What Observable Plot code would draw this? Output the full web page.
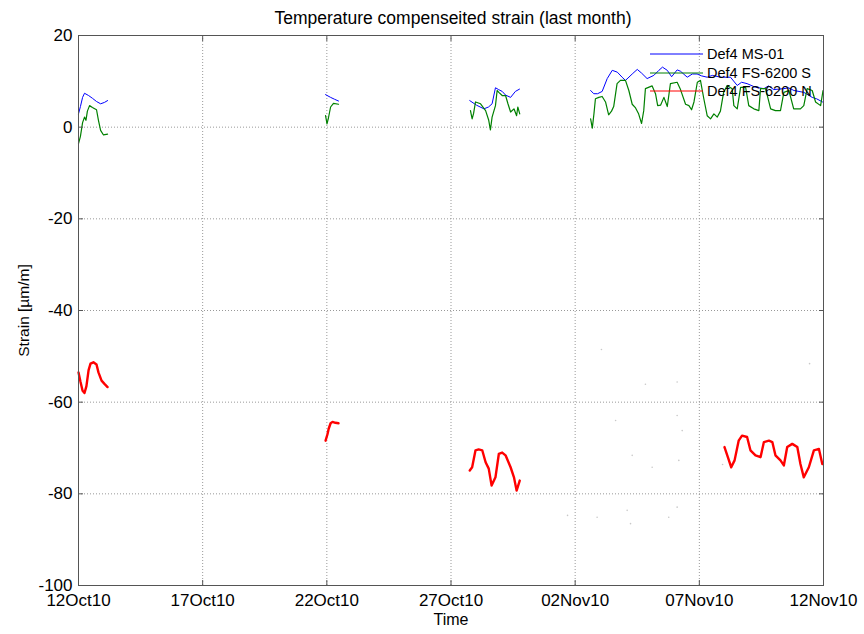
<!DOCTYPE html>
<html><head><meta charset="utf-8">
<script src="https://cdn.jsdelivr.net/npm/d3@7"></script>
<script src="https://cdn.jsdelivr.net/npm/@observablehq/plot@0.6"></script>
<style>
body{margin:0;background:#fff;}
#wrap{position:relative;width:864px;height:634px;font-family:"Liberation Sans",Arial,sans-serif;}
#legend{position:absolute;left:650px;top:45px;font-size:14.5px;color:#000;}
#legend .row{display:flex;align-items:center;height:18.5px;}
#legend svg{margin-right:4px;}
</style></head>
<body><div id="wrap"><div id="legend"></div></div>
<script>
// ---- data (x = days since left axis limit, y = strain in µm/m) ----
const title = "Temperature compenseited strain (last month)";
const xTitle = "Time";
const yTitle = "Strain [µm/m]";
const xLabels = ["12Oct10","17Oct10","22Oct10","27Oct10","02Nov10","07Nov10","12Nov10"];
const spanDays = 31;
const yTicks = [-100,-80,-60,-40,-20,0,20];
const seriesNames = ["Def4 MS-01","Def4 FS-6200 S","Def4 FS-6200 N"];
const seriesColors = ["#0000ff","#008000","#ff0000"];

const ms01 = [
  [[0,2.9],[0.08,4.5],[0.17,6.5],[0.25,7.4],[0.42,6.9],[0.58,6.3],[0.75,5.6],[0.92,5.1],[1.08,5.4],[1.21,5.8]],
  [[10.28,7.1],[10.49,6.5],[10.65,6.1],[10.82,5.7]],
  [[16.28,5.8],[16.56,4.8],[16.87,4.0],[17.06,4.4],[17.21,5.1],[17.35,8.6],[17.48,8.2],[17.63,7.8],[17.77,7.0],[17.98,6.5],[18.18,7.8],[18.35,8.3]],
  [[21.31,8.0],[21.44,7.3],[21.60,7.3],[21.79,7.8],[22.00,10.6],[22.21,12.4],[22.42,12.0],[22.62,10.9],[22.76,10.2],[23.04,11.6],[23.25,12.6],[23.43,11.8],[23.66,10.6],[23.94,11.3],[24.15,12.4],[24.30,13.1],[24.50,12.4],[24.68,11.0],[24.91,12.5],[25.05,12.2],[25.33,10.9],[25.54,11.6],[25.74,11.6],[25.92,11.2],[26.16,10.9],[26.38,11.3],[26.71,10.9],[27.13,10.9],[27.41,9.1],[27.59,9.8],[27.82,9.5],[28.17,8.7],[28.52,8.4],[28.71,9.0],[28.93,8.2],[29.35,8.4],[29.54,8.6],[29.77,8.0],[30.18,7.6],[30.53,6.5],[30.71,6.2],[30.96,5.5]]
];
const fs6200S = [
  [[0,-3.6],[0.08,-2],[0.17,1],[0.25,2.2],[0.31,1.5],[0.37,3.5],[0.46,4.7],[0.58,4.3],[0.75,3.8],[0.83,1.5],[0.92,-0.7],[1.04,-1.7],[1.21,-1.5]],
  [[10.28,2.5],[10.34,0.7],[10.40,2.0],[10.49,4.4],[10.61,5.2],[10.82,5.0]],
  [[16.31,3.6],[16.38,1.8],[16.44,3.0],[16.52,5.5],[16.73,5.1],[16.94,3.6],[17.07,1.5],[17.14,-0.6],[17.21,2.2],[17.35,4.7],[17.42,8.0],[17.49,7.6],[17.63,6.9],[17.77,6.9],[17.87,5.1],[17.98,3.3],[18.12,4.0],[18.23,2.5],[18.28,4.4],[18.36,2.9]],
  [[21.31,1.8],[21.38,-0.2],[21.45,3.0],[21.51,6.2],[21.65,6.5],[21.79,6.7],[21.93,5.5],[22.06,2.7],[22.18,3.5],[22.27,4.5],[22.41,9.5],[22.55,10.2],[22.76,10.2],[22.90,8.0],[23.04,5.0],[23.18,4.2],[23.30,3.0],[23.43,0.8],[23.52,3.6],[23.59,8.4],[23.87,9.0],[24.01,7.3],[24.10,4.7],[24.22,4.8],[24.36,6.5],[24.50,4.5],[24.63,9.5],[24.91,9.8],[25.05,8.2],[25.26,5.0],[25.40,4.7],[25.51,3.8],[25.61,5.5],[25.75,9.8],[25.88,10.2],[26.02,6.2],[26.16,2.5],[26.30,1.8],[26.44,2.9],[26.58,2.2],[26.71,3.5],[26.84,7.5],[26.99,9.1],[27.20,8.4],[27.27,4.7],[27.41,4.0],[27.55,8.7],[27.76,8.7],[27.89,4.7],[28.10,4.0],[28.31,3.6],[28.38,8.4],[28.59,8.4],[28.80,4.0],[29.00,3.6],[29.21,3.6],[29.35,7.6],[29.56,8.0],[29.76,4.0],[30.04,4.0],[30.18,4.7],[30.32,8.4],[30.53,8.0],[30.67,5.5],[30.88,4.7],[30.98,8.0]]
];
const fs6200N = [
  [[0,-53.5],[0.08,-55.5],[0.17,-57.5],[0.25,-58],[0.33,-56.5],[0.42,-53],[0.50,-51.6],[0.62,-51.3],[0.75,-51.8],[0.83,-53.5],[0.96,-55.3],[1.08,-56],[1.21,-56.7]],
  [[10.28,-68.4],[10.36,-67],[10.41,-65.8],[10.49,-64.6],[10.57,-64.3],[10.69,-64.5],[10.82,-64.6]],
  [[16.28,-74.9],[16.38,-74.2],[16.52,-70.5],[16.65,-70.3],[16.80,-70.5],[16.94,-73.1],[17.07,-74.5],[17.19,-78.2],[17.35,-76.4],[17.49,-71.3],[17.63,-71.0],[17.77,-71.6],[17.98,-74.2],[18.12,-76.4],[18.23,-79.3],[18.36,-77.1]],
  [[26.88,-69.8],[27.02,-72.0],[27.16,-74.2],[27.30,-72.7],[27.47,-68.4],[27.61,-67.3],[27.82,-67.6],[27.96,-70.5],[28.17,-71.6],[28.38,-72.0],[28.52,-68.7],[28.73,-68.4],[28.87,-68.7],[29.00,-71.6],[29.21,-72.7],[29.35,-73.8],[29.49,-69.8],[29.70,-69.1],[29.91,-69.8],[30.04,-73.5],[30.18,-76.4],[30.39,-74.2],[30.60,-70.5],[30.81,-70.2],[30.95,-73.5]]
];
const strayPoints = [[21.76,-48.5],[22.35,-64.0],[23.04,-71.6],[23.87,-74.2],[24.91,-55.6],[24.91,-62.9],[25.12,-66.2],[24.98,-72.7],[24.91,-82.9],[24.56,-85.1],[22.97,-86.5],[22.83,-83.6],[21.58,-85.1],[20.35,-84.7],[23.59,-56.1],[26.80,-73.6],[30.42,-51.6]];

// ---- build ----
const xTicks = xLabels.map((_, i) => i * spanDays / (xLabels.length - 1));
const fmtX = d => xLabels[Math.round(d * (xLabels.length - 1) / spanDays)];
function rows(segs, name) {
  const out = [];
  segs.forEach((seg, s) => seg.forEach(([t, v]) => out.push({t, v, seg: name + s})));
  return out;
}
const allSeries = [ms01, fs6200S, fs6200N];
const lineWidths = [1, 1.2, 2.4];
const font = '"Liberation Sans", Arial, sans-serif';

const chart = Plot.plot({
  width: 864, height: 634,
  marginLeft: 78, marginRight: 41, marginTop: 35, marginBottom: 49,
  style: {fontFamily: font, fontSize: "17px", background: "#fff", color: "#000", overflow: "visible"},
  x: {domain: [0, spanDays]},
  y: {domain: [-100, 20]},
  marks: [
    Plot.gridX(xTicks, {stroke: "#999", strokeOpacity: 1, strokeDasharray: "1,2"}),
    Plot.gridY(yTicks, {stroke: "#999", strokeOpacity: 1, strokeDasharray: "1,2"}),
    Plot.dot(strayPoints, {x: d => d[0], y: d => d[1], r: 0.8, fill: "#c8c8c8", stroke: null}),
    ...allSeries.map((segs, i) => Plot.line(rows(segs, "s" + i), {
      x: "t", y: "v", z: "seg", stroke: seriesColors[i], strokeWidth: lineWidths[i]
    })),
    Plot.frame({stroke: "#555"}),
    Plot.axisX(xTicks, {anchor: "bottom", tickSize: -5, tickPadding: 13, tickFormat: fmtX, fontSize: 17,
      label: null, stroke: "#555"}),
    Plot.axisX(xTicks, {anchor: "top", tickSize: -5, tickFormat: () => "", label: null, stroke: "#555"}),
    Plot.axisY(yTicks, {anchor: "left", tickSize: -5, tickPadding: 11, tickFormat: d => String(d), fontSize: 17,
      label: null, stroke: "#555"}),
    Plot.axisY(yTicks, {anchor: "right", tickSize: -5, tickFormat: () => "", label: null, stroke: "#555"}),
    Plot.text([xTitle], {frameAnchor: "bottom", lineAnchor: "middle", textAnchor: "middle", dy: 34, fontSize: 16, text: d => d}),
    Plot.text([yTitle], {frameAnchor: "left", lineAnchor: "middle", textAnchor: "middle", dx: -54, rotate: -90, fontSize: 15.5, text: d => d}),
    Plot.text([title], {frameAnchor: "top", lineAnchor: "middle", textAnchor: "middle", dy: -17, dx: 2, fontSize: 17.5, text: d => d})
  ]
});
document.getElementById("wrap").prepend(chart);

// legend (no box, drawn over the data like the original)
const lg = document.getElementById("legend");
seriesNames.forEach((name, i) => {
  const row = document.createElement("div");
  row.className = "row";
  row.innerHTML = `<svg width="53" height="4"><line x1="0" y1="2" x2="53" y2="2" stroke="${seriesColors[i]}" stroke-width="1"/></svg><span>${name}</span>`;
  lg.appendChild(row);
});
</script></body></html>
